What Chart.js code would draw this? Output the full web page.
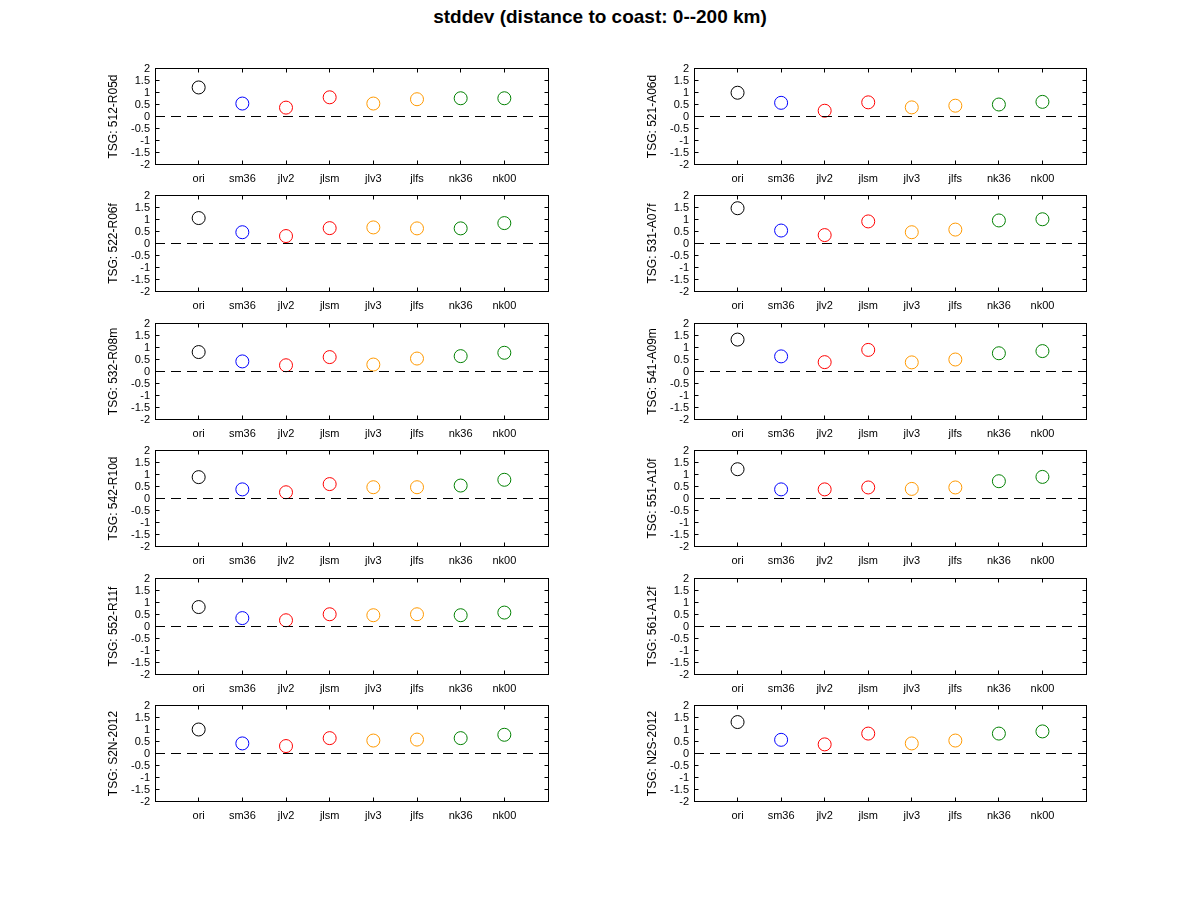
<!DOCTYPE html>
<html><head><meta charset="utf-8">
<script src="https://cdn.jsdelivr.net/npm/chart.js@4"></script>
<style>
body{margin:0;background:#fff;width:1200px;height:901px;position:relative;overflow:hidden;font-family:"Liberation Sans",Arial,sans-serif}
#title{position:absolute;left:0;width:1200px;top:6px;text-align:center;font-weight:bold;font-size:19px;color:#000}
canvas{position:absolute}
</style></head><body>
<div id="title">stddev (distance to coast: 0--200 km)</div>
<script>
// ---- data ----
const categories = ['ori','sm36','jlv2','jlsm','jlv3','jlfs','nk36','nk00'];
const modelColors = ['#000000','#0000ff','#ff0000','#ff0000','#ff9900','#ff9900','#008000','#008000'];
const yTickValues = [-2,-1.5,-1,-0.5,0,0.5,1,1.5,2];

const leftLabels  = ['TSG: 512-R05d','TSG: 522-R06f','TSG: 532-R08m','TSG: 542-R10d','TSG: 552-R11f','TSG: S2N-2012'];
const rightLabels = ['TSG: 521-A06d','TSG: 531-A07f','TSG: 541-A09m','TSG: 551-A10f','TSG: 561-A12f','TSG: N2S-2012'];

const s512_R05d = [1.21,0.54,0.37,0.80,0.54,0.72,0.76,0.76];
const s522_R06f = [1.06,0.47,0.31,0.64,0.67,0.63,0.63,0.85];
const s532_R08m = [0.81,0.42,0.26,0.60,0.29,0.54,0.64,0.78];
const s542_R10d = [0.89,0.38,0.26,0.60,0.47,0.47,0.54,0.78];
const s552_R11f = [0.81,0.35,0.26,0.51,0.47,0.51,0.47,0.58];
const sS2N_2012 = [1.00,0.42,0.31,0.64,0.54,0.58,0.64,0.78];

const s521_A06d = [0.99,0.57,0.24,0.59,0.38,0.45,0.50,0.61];
const s531_A07f = [1.47,0.54,0.35,0.92,0.47,0.58,0.96,1.01];
const s541_A09m = [1.33,0.63,0.39,0.90,0.38,0.50,0.76,0.85];
const s551_A10f = [1.22,0.38,0.38,0.46,0.40,0.46,0.72,0.90];
const s561_A12f = [null,null,null,null,null,null,null,null];
const sN2S_2012 = [1.31,0.57,0.38,0.83,0.42,0.54,0.83,0.92];

const leftSeries  = [s512_R05d,s522_R06f,s532_R08m,s542_R10d,s552_R11f,sS2N_2012];
const rightSeries = [s521_A06d,s531_A07f,s541_A09m,s551_A10f,s561_A12f,sN2S_2012];

// ---- layout ----
const rowTops = [68,195,323,450,578,705];
const plotH = 96;
const cols = [{left:155,right:548},{left:694,right:1086}];
const AXW = 65, PADT = 10, AXH = 26, PADR = 12;
const FONT = '"Liberation Sans",Arial,sans-serif';

const framePlugin = {
  id:'frame',
  afterDatasetsDraw(chart){
    const {ctx, chartArea:a, scales:{x,y}} = chart;
    ctx.save();
    ctx.strokeStyle='#000'; ctx.lineWidth=1; ctx.setLineDash([]);
    ctx.beginPath();
    const L=Math.floor(a.left)+0.5, R=Math.floor(a.right)+0.5, T=Math.floor(a.top)+0.5, B=Math.floor(a.bottom)+0.5;
    for(const t of y.ticks){
      const py=Math.floor(y.getPixelForValue(t.value))+0.5;
      ctx.moveTo(L,py); ctx.lineTo(L+4,py);
      ctx.moveTo(R,py); ctx.lineTo(R-4,py);
    }
    for(const t of x.ticks){
      const px=Math.floor(x.getPixelForValue(t.value))+0.5;
      ctx.moveTo(px,B); ctx.lineTo(px,B-4);
      ctx.moveTo(px,T); ctx.lineTo(px,T+4);
    }
    ctx.stroke();
    ctx.strokeRect(L,T,R-L,B-T);
    ctx.restore();
  }
};

function zeroPad(s){ s.paddingTop=0; s.paddingBottom=0; s.paddingLeft=0; s.paddingRight=0; }

function makePanel(col,row,label,values){
  const c=cols[col];
  const cv=document.createElement('canvas');
  const w=(c.right-c.left)+AXW+PADR, h=plotH+PADT+AXH+1;
  cv.width=w; cv.height=h;
  cv.style.left=(c.left-AXW)+'px'; cv.style.top=(rowTops[row]-PADT)+'px';
  cv.style.width=w+'px'; cv.style.height=h+'px';
  document.body.appendChild(cv);
  const pts=values.map((v,i)=>({x:i+1,y:v}));
  new Chart(cv,{
    type:'scatter',
    data:{datasets:[
      {type:'line',data:[{x:0,y:0},{x:9,y:0}],borderColor:'#000',borderWidth:1,borderDash:[10,6],pointRadius:0,fill:false},
      {data:pts,pointStyle:'circle',pointRadius:6.5,pointBorderWidth:1,
       pointBorderColor:modelColors,pointBackgroundColor:'rgba(0,0,0,0)',showLine:false}
    ]},
    options:{
      responsive:false,animation:false,events:[],devicePixelRatio:1,
      layout:{padding:{top:PADT+0.5,right:PADR,left:0,bottom:0.5}},
      plugins:{legend:{display:false},tooltip:{enabled:false}},
      scales:{
        x:{type:'linear',min:0,max:9,
           afterBuildTicks:s=>{s.ticks=categories.map((_,i)=>({value:i+1}));},
           afterFit:s=>{s.height=AXH; zeroPad(s);},
           ticks:{callback:v=>categories[v-1]??'',color:'#000',font:{family:FONT,size:11},padding:8,maxRotation:0,autoSkip:false},
           grid:{display:false,drawTicks:false},border:{display:false}},
        y:{type:'linear',min:-2,max:2,
           afterBuildTicks:s=>{s.ticks=yTickValues.map(v=>({value:v}));},
           afterFit:s=>{s.width=AXW; zeroPad(s);},
           ticks:{callback:v=>String(v),color:'#000',font:{family:FONT,size:11},padding:5,autoSkip:false},
           grid:{display:false,drawTicks:false},border:{display:false},
           title:{display:true,text:label,color:'#000',font:{family:FONT,size:12},padding:{top:16,bottom:0}}}
      }
    },
    plugins:[framePlugin]
  });
}

for(let r=0;r<6;r++){
  makePanel(0,r,leftLabels[r],leftSeries[r]);
  makePanel(1,r,rightLabels[r],rightSeries[r]);
}
</script>
</body></html>
